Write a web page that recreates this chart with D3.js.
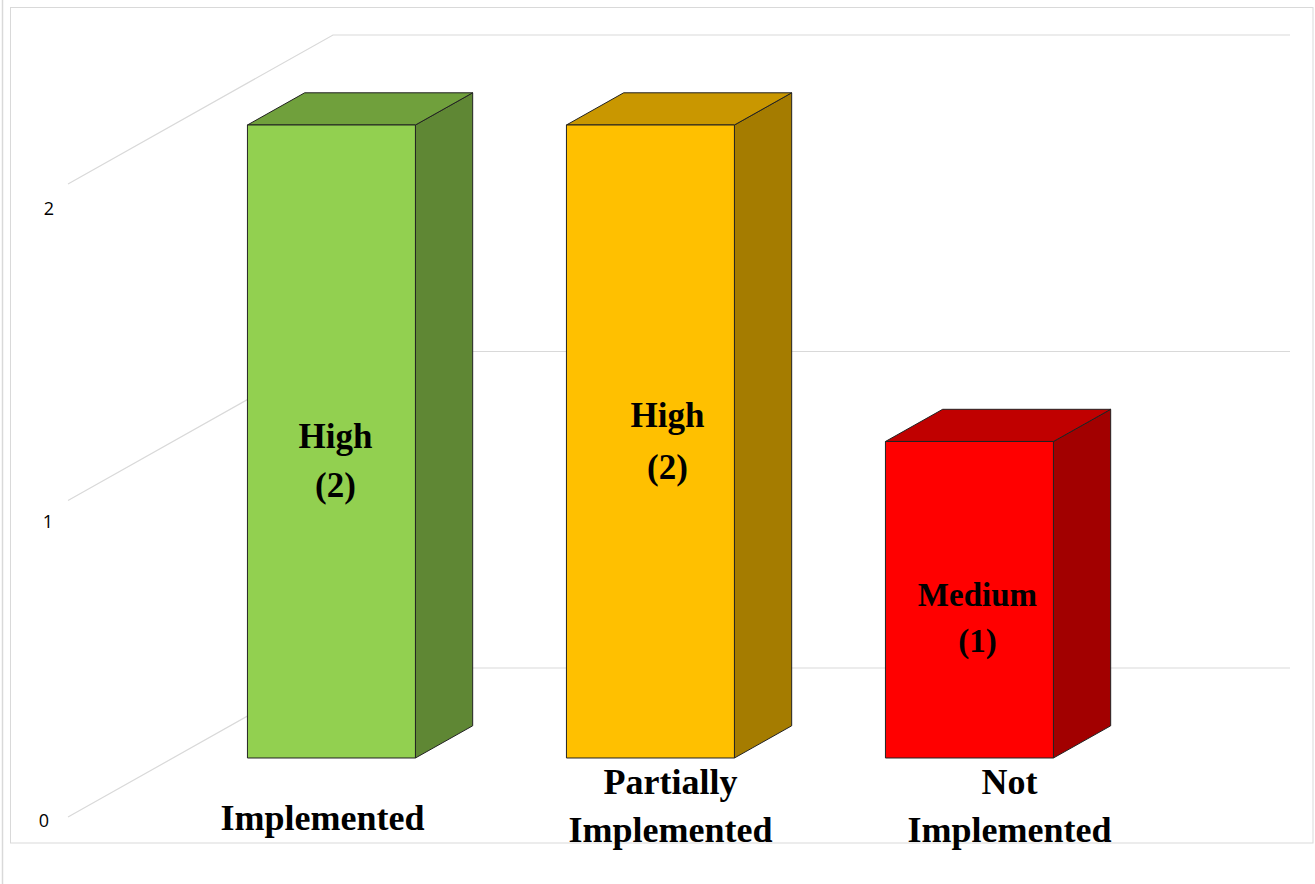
<!DOCTYPE html>
<html>
<head>
<meta charset="utf-8">
<script src="https://cdn.jsdelivr.net/npm/d3@7"></script>
<style>
  html, body { margin: 0; padding: 0; background: #fff; }
  svg { display: block; }
</style>
</head>
<body>
<svg id="chart" width="1315" height="884"></svg>
<script>
// ---- data ----
const categories = ["Implemented", "Partially Implemented", "Not Implemented"];
const categoryLines = [["Implemented"], ["Partially", "Implemented"], ["Not", "Implemented"]];
const values = [2, 2, 1];
const levelWords = ["High", "High", "Medium"];
const yTicks = [0, 1, 2];

// ---- palette (style) ----
const faceColors = ["#92D050", "#FFC000", "#FF0000"];
const topColors  = ["#70A03C", "#C99700", "#C00000"];
const sideColors = ["#5F8734", "#A57C00", "#A20000"];

const svg = d3.select("#chart");

// frame
svg.append("line").attr("x1", 2.5).attr("x2", 2.5).attr("y1", 0).attr("y2", 884)
  .attr("stroke", "#d9d9d9").attr("stroke-width", 1.5);
svg.append("rect").attr("x", 10.5).attr("y", 7.5).attr("width", 1302.5).attr("height", 835.5)
  .attr("fill", "none").attr("stroke", "#d9d9d9").attr("stroke-width", 1);

// scales & oblique projection
const y = d3.scaleLinear().domain([0, 2]).range([817, 184]);
const x = d3.scaleBand().domain(categories).range([67, 1024])
  .paddingInner(0.4734).paddingOuter(0.2367);
const depthDX = 265, depthDY = -149;
const proj = (px, v, d) => [px + d * depthDX, y(v) + d * depthDY];
const d0 = 0.396, d1 = 0.612;

// gridlines: left wall diagonal + back wall
const gx0 = 68, gx1 = 1025;
svg.append("g").selectAll("path").data(yTicks).join("path")
  .attr("d", t => d3.line()([proj(gx0, t, 0), proj(gx0, t, 1), proj(gx1, t, 1)]))
  .attr("fill", "none").attr("stroke", "#d9d9d9").attr("stroke-width", 1.2);

// tick labels
const tickLabelY = d3.scaleLinear().domain([0, 1, 2]).range([820, 521, 208]);
const tickLabelX = d3.scaleLinear().domain([0, 1, 2]).range([44, 48, 49]);
svg.append("g").selectAll("text").data(yTicks).join("text")
  .attr("x", t => tickLabelX(t)).attr("y", t => tickLabelY(t))
  .attr("text-anchor", "middle").attr("dominant-baseline", "central")
  .attr("font-family", "'Open Sans', 'Liberation Sans', Arial, sans-serif").attr("font-size", 18)
  .attr("fill", "#000").text(t => t);

// bars
const bars = svg.append("g");
categories.forEach((c, i) => {
  const v = values[i];
  const bx0 = x(c), bx1 = x(c) + x.bandwidth();
  const g = bars.append("g");
  const poly = pts => "M" + pts.map(p => p.join(",")).join("L") + "Z";
  g.append("path")
    .attr("d", poly([proj(bx1, 0, d0), proj(bx1, 0, d1), proj(bx1, v, d1), proj(bx1, v, d0)]))
    .attr("fill", sideColors[i]).attr("stroke", "#222").attr("stroke-width", 1).attr("stroke-linejoin", "round");
  g.append("path")
    .attr("d", poly([proj(bx0, v, d0), proj(bx1, v, d0), proj(bx1, v, d1), proj(bx0, v, d1)]))
    .attr("fill", topColors[i]).attr("stroke", "#222").attr("stroke-width", 1).attr("stroke-linejoin", "round");
  g.append("path")
    .attr("d", poly([proj(bx0, 0, d0), proj(bx1, 0, d0), proj(bx1, v, d0), proj(bx0, v, d0)]))
    .attr("fill", faceColors[i]).attr("stroke", "#222").attr("stroke-width", 1).attr("stroke-linejoin", "round");
});

// value labels (layout nudges from bar face centre)
const labelNudgeX = [4, 17, 8];
const labelNudgeY = [7, -14, 6];
const labelGap = [49, 52, 46];
const labelSize = [35, 35, 33];
const serif = "'Liberation Serif', 'Times New Roman', serif";
categories.forEach((c, i) => {
  const v = values[i];
  const cx = (proj(x(c), 0, d0)[0] + proj(x(c) + x.bandwidth(), 0, d0)[0]) / 2 + labelNudgeX[i];
  const cy = (y(0) + y(v)) / 2 + d0 * depthDY + labelNudgeY[i];
  const t = svg.append("text").attr("text-anchor", "middle")
    .attr("font-family", serif).attr("font-weight", "bold").attr("font-size", labelSize[i]).attr("fill", "#000");
  t.append("tspan").attr("x", cx).attr("y", cy).text(levelWords[i]);
  t.append("tspan").attr("x", cx).attr("y", cy + labelGap[i]).text("(" + v + ")");
});

// category labels
const catNudgeX = [-9, 20, 40];
categories.forEach((c, i) => {
  const cx = (proj(x(c), 0, d0)[0] + proj(x(c) + x.bandwidth(), 0, d0)[0]) / 2 + catNudgeX[i];
  const lines = categoryLines[i];
  const t = svg.append("text").attr("text-anchor", "middle")
    .attr("font-family", serif).attr("font-weight", "bold").attr("font-size", 36).attr("fill", "#000");
  const baseY = lines.length === 1 ? 830 : 794;
  lines.forEach((ln, k) => {
    t.append("tspan").attr("x", cx).attr("y", baseY + k * 48).text(ln);
  });
});
</script>
</body>
</html>
